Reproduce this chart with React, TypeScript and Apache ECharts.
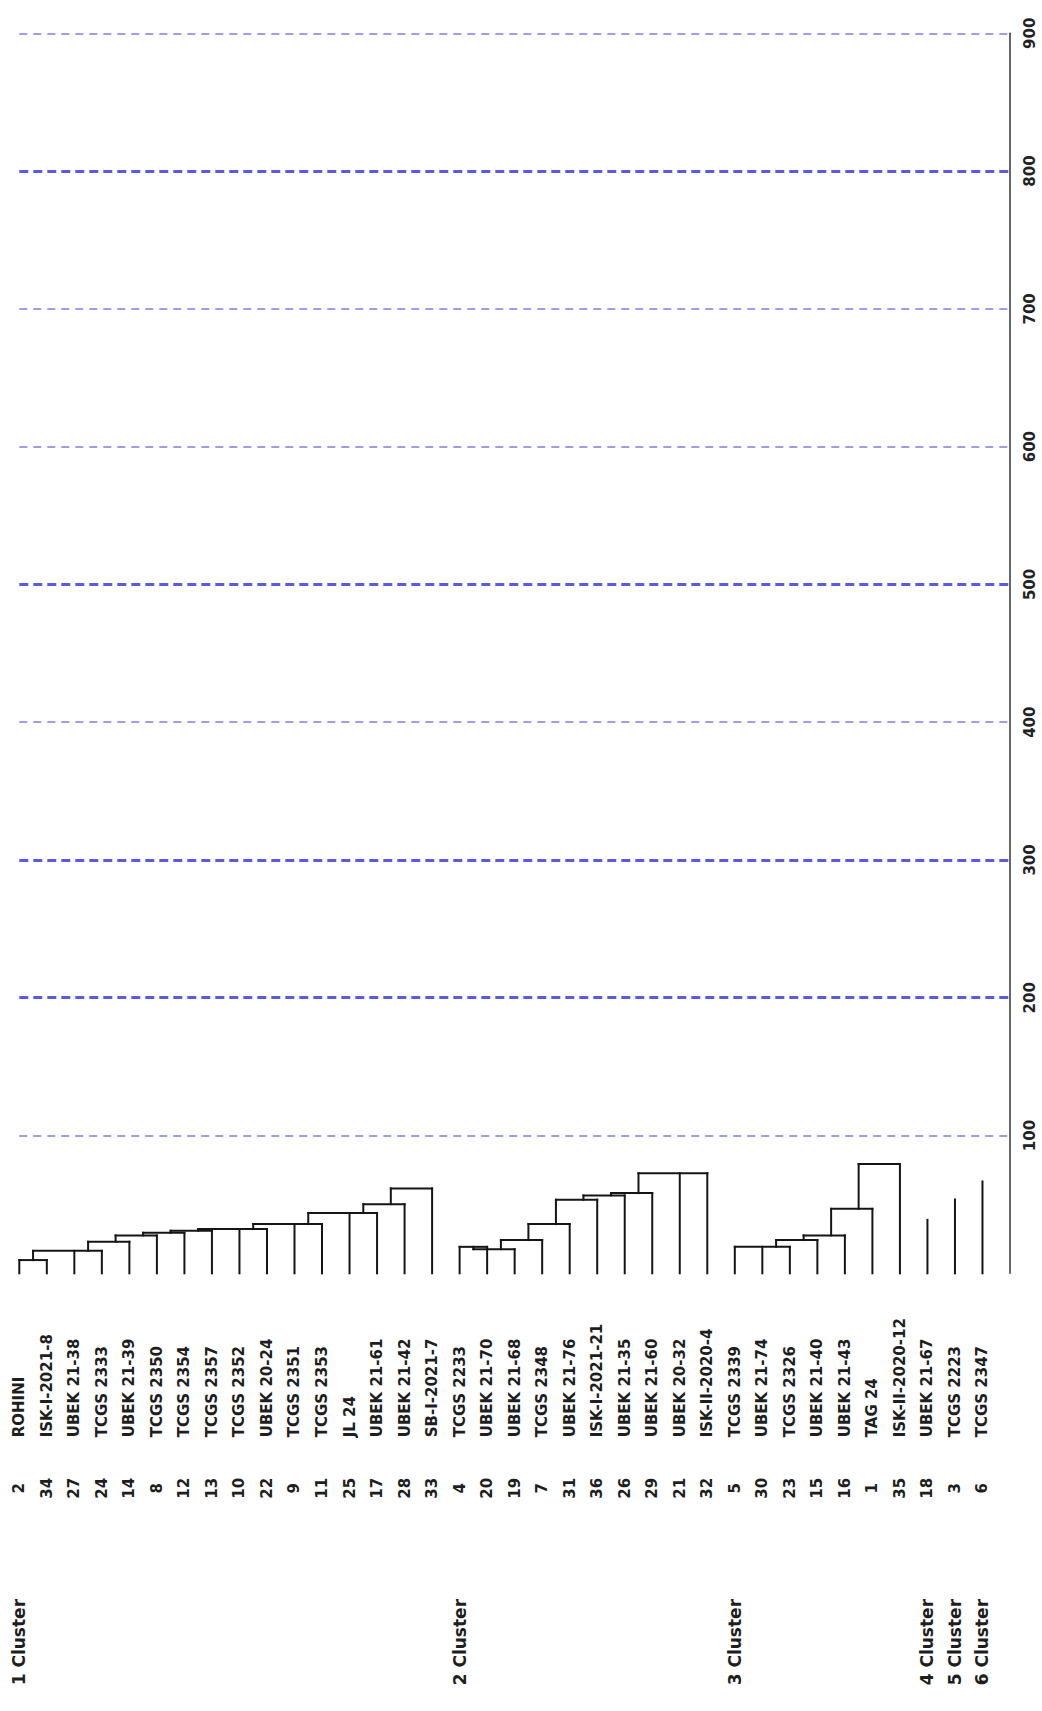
import React, { useEffect, useRef } from "react";
import * as echarts from "echarts";

// Leaf order of the dendrogram (left to right)
const leafIds = [
  2, 34, 27, 24, 14, 8, 12, 13, 10, 22, 9, 11, 25, 17, 28, 33,
  4, 20, 19, 7, 31, 36, 26, 29, 21, 32,
  5, 30, 23, 15, 16, 1, 35,
  18, 3, 6,
];
const leafNames = [
  "ROHINI", "ISK-I-2021-8", "UBEK 21-38", "TCGS 2333", "UBEK 21-39", "TCGS 2350",
  "TCGS 2354", "TCGS 2357", "TCGS 2352", "UBEK 20-24", "TCGS 2351", "TCGS 2353",
  "JL 24", "UBEK 21-61", "UBEK 21-42", "SB-I-2021-7",
  "TCGS 2233", "UBEK 21-70", "UBEK 21-68", "TCGS 2348", "UBEK 21-76", "ISK-I-2021-21",
  "UBEK 21-35", "UBEK 21-60", "UBEK 20-32", "ISK-II-2020-4",
  "TCGS 2339", "UBEK 21-74", "TCGS 2326", "UBEK 21-40", "UBEK 21-43", "TAG 24", "ISK-II-2020-12",
  "UBEK 21-67", "TCGS 2223", "TCGS 2347",
];
// Linkage distance at which each leaf joins its cluster (leaves joining in the same step share a value)
const joinHeights = [
  9.6, 9.6, 16.3, 16.3, 22.9, 27.5, 29.4, 30.9, 32.1, 32.1, 35.7, 35.7, 43.7, 43.7, 50.2, 61.6,
  19.2, 19.2, 17.5, 24.1, 35.7, 53.4, 56.5, 58.2, 72.7, 72.7,
  19.2, 19.2, 19.2, 24.1, 27.5, 46.8, 79.3,
  38.8, 53.6, 66.7,
];
const clusterSizes = [16, 10, 7, 1, 1, 1];
const clusterLabels = ["1 Cluster", "2 Cluster", "3 Cluster", "4 Cluster", "5 Cluster", "6 Cluster"];
const gridValues = [100, 200, 300, 400, 500, 600, 700, 800, 900];
const majorGridValues = [200, 300, 500, 800];

const FONT = "DejaVu Sans";

function buildSegments(): number[][] {
  const segs: number[][] = [];
  let start = 0;
  clusterSizes.forEach((size) => {
    for (let i = start; i < start + size; i++) segs.push([i, 0, i, joinHeights[i]]);
    if (size > 1) {
      let prevStem: number | null = null;
      let prevH = 0;
      let k = 0;
      while (k < size) {
        const h = joinHeights[start + k];
        let e = k;
        while (e + 1 < size && joinHeights[start + e + 1] === h) e++;
        const first = start + k;
        const last = start + e;
        const from = prevStem === null ? first : prevStem;
        segs.push([from, h, last, h]);
        if (prevStem !== null) segs.push([prevStem, prevH, prevStem, h]);
        prevStem = last - 0.5;
        prevH = h;
        k = e + 1;
      }
    }
    start += size;
  });
  return segs;
}

function clusterFirstIndex(): Record<number, string> {
  const map: Record<number, string> = {};
  let s = 0;
  clusterSizes.forEach((n, ci) => {
    map[s] = clusterLabels[ci];
    s += n;
  });
  return map;
}

export default function App() {
  const ref = useRef<HTMLDivElement>(null);
  useEffect(() => {
    if (!ref.current) return;
    const chart = echarts.init(ref.current, null, { renderer: "svg" });
    const segs = buildSegments();
    const firstIdx = clusterFirstIndex();
    const nLeaves = leafIds.length;

    const labelAxisBase = {
      type: "value",
      position: "bottom",
      min: 0,
      max: nLeaves,
      interval: 1,
      axisLine: { show: false, onZero: false },
      axisTick: { show: false },
      splitLine: { show: false },
    };

    chart.setOption({
      animation: false,
      backgroundColor: "#ffffff",
      grid: {
        left: 19.3,
        right: 32,
        top: 33.3,
        bottom: 437.7,
        containLabel: false,
        outerBoundsMode: "none",
      },
      xAxis: [
        {
          type: "value",
          position: "bottom",
          min: 0,
          max: nLeaves,
          show: false,
          axisLine: { onZero: false },
        },
        {
          ...labelAxisBase,
          offset: 164,
          axisLabel: {
            rotate: 90,
            align: "left",
            verticalAlign: "middle",
            margin: 0,
            fontFamily: FONT,
            fontWeight: "bold",
            fontSize: 15,
            color: "#1e1e1e",
            formatter: (v: number) => leafNames[Math.round(v)] ?? "",
          },
        },
        {
          ...labelAxisBase,
          offset: 215,
          axisLabel: {
            rotate: 90,
            align: "center",
            verticalAlign: "middle",
            margin: 0,
            fontFamily: FONT,
            fontWeight: "bold",
            fontSize: 15,
            color: "#1e1e1e",
            formatter: (v: number) => {
              const id = leafIds[Math.round(v)];
              return id === undefined ? "" : String(id);
            },
          },
        },
        {
          ...labelAxisBase,
          offset: 412,
          axisLabel: {
            rotate: 90,
            align: "left",
            verticalAlign: "middle",
            margin: 0,
            fontFamily: FONT,
            fontWeight: "bold",
            fontSize: 17,
            color: "#1e1e1e",
            formatter: (v: number) => firstIdx[Math.round(v)] ?? "",
          },
        },
      ],
      yAxis: {
        type: "value",
        position: "right",
        min: 0,
        max: 900,
        interval: 100,
        axisLine: { show: true, onZero: false, lineStyle: { color: "#333333", width: 1.5 } },
        axisTick: { show: false },
        splitLine: { show: false },
        axisLabel: {
          rotate: 90,
          margin: 12,
          fontFamily: FONT,
          fontWeight: "bold",
          fontSize: 15,
          color: "#222222",
          formatter: (v: number) => (v === 0 ? "" : String(v)),
        },
      },
      series: [
        {
          type: "custom",
          xAxisIndex: 0,
          yAxisIndex: 0,
          data: segs,
          encode: { x: [0, 2], y: [1, 3] },
          silent: true,
          renderItem: (_params: any, api: any) => {
            const p1 = api.coord([api.value(0), api.value(1)]);
            const p2 = api.coord([api.value(2), api.value(3)]);
            return {
              type: "line",
              shape: { x1: p1[0], y1: p1[1], x2: p2[0], y2: p2[1] },
              style: { stroke: "#151515", lineWidth: 2, lineCap: "square" },
            };
          },
          markLine: {
            silent: true,
            symbol: ["none", "none"],
            label: { show: false },
            data: gridValues.map((v) => {
              const major = majorGridValues.includes(v);
              return {
                yAxis: v,
                lineStyle: major
                  ? { color: "#5a5ae6", width: 3, type: [9, 5] }
                  : { color: "#9d9df0", width: 2, type: [8, 6] },
              };
            }),
          },
        },
      ],
    });
    return () => chart.dispose();
  }, []);

  return (
    <div
      ref={ref}
      style={{ position: "absolute", left: 0, top: 0, width: 1042, height: 1711, background: "#fff" }}
    />
  );
}
